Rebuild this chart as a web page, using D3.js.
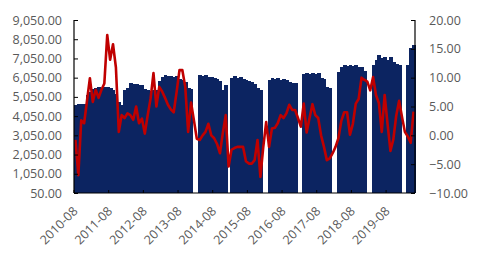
<!DOCTYPE html>
<html>
  <head>
    <meta charset="utf-8">
    <style>
      body { margin: 0; background: #fff; }
      svg text { font-family: "Open Sans", sans-serif; font-size: 12.5px; fill: #595959; }
    </style>
  </head>
  <body>
    <script src="https://d3js.org/d3.v7.min.js"></script>
    <svg id="chart" width="478" height="261"></svg>
    <script>

      // months 2010-08 .. 2020-05 (category axis)
      var months = d3.timeMonth.range(new Date(2010, 7, 1), new Date(2020, 5, 1))
        .map(d3.timeFormat("%Y-%m"));

      var tickLabels = ["2010-08", "2011-08", "2012-08", "2013-08", "2014-08",
                        "2015-08", "2016-08", "2017-08", "2018-08", "2019-08"];

      // bars (left axis), one row per year
      var barValues = [].concat(
        [4620, 4680, 4660, 4700, 5150],
        [5300, 5450, 5520, 5540, 5500, 5560, 5540, 5500, 5400, 5200, 4800, 4650],
        [5400, 5500, 5760, 5700, 5720, 5680, 5650, 5450, 5400, 5380, 5420, 5400],
        [5900, 6100, 6200, 6150, 6150, 6100, 6150, 6000, 5950, 5850, 5500, 5480],
        [null, null, 6200, 6150, 6180, 6100, 6080, 6050, 6000, 5900, 5400, 5650],
        [null, 6050, 6150, 6050, 6100, 6000, 5950, 5900, 5800, 5700, 5500, 5400],
        [null, null, 5950, 6050, 6000, 6050, 5950, 6000, 5950, 5850, 5760, 5760],
        [null, null, 6250, 6280, 6250, 6280, 6250, 6300, 6050, 6000, 5550, 5500],
        [null, null, 6350, 6600, 6700, 6650, 6700, 6680, 6700, 6620, 6600, 6400],
        [null, null, 6700, 6950, 7230, 7050, 7100, 6950, 7150, 6850, 6750, 6700],
        [null, null, 6700, 7600, 7750]
      );

      // line (right axis)
      var lineValues = [].concat(
        [-0.8, -6.9, 2.6, 2.1, 6.0],
        [9.9, 5.8, 7.9, 6.5, 7.9, 9.0, 17.4, 13.1, 15.8, 11.8, 0.6, 3.5],
        [3.0, 3.8, 3.5, 2.7, 5.0, 2.1, 2.9, 0.3, 3.5, 6.4, 10.8, 5.0],
        [8.4, 7.6, 6.5, 5.3, 4.5, 4.0, 7.5, 11.3, 11.3, 8.4, 0.6, 5.7],
        [2.6, -0.6, -0.8, 0.0, 0.6, 2.0, 0.0, -0.5, -1.5, -3.1, 0.4, 3.5],
        [-5.4, -2.5, -2.2, -2.0, -2.0, -2.0, -4.5, -4.9, -4.9, -4.3, -0.8, -7.2],
        [-2.0, 2.3, -2.0, 1.2, 1.3, 2.1, 3.5, 3.0, 3.8, 5.3, 4.4, 4.4],
        [3.0, 1.5, 5.5, 0.5, 3.0, 5.4, 3.5, 3.0, 0.0, -2.0, -4.3, -4.0],
        [-3.1, -2.0, -0.5, 2.5, 4.0, 4.0, 0.1, 2.0, 5.5, 6.3, 10.0, 9.6],
        [9.3, 7.8, 10.1, 7.0, 5.6, 0.6, 7.0, 2.0, -2.7, -0.7, 3.4, 6.0],
        [3.2, 0.6, -0.2, -1.3, 4.1]
      );

      var leftTicks = d3.range(50, 9051, 1000);
      var rightTicks = d3.range(-10, 21, 5);

      var svg = d3.select("#chart");
      var plotL = 74, plotR = 415, plotT = 20, plotB = 193;

      var x = d3.scaleBand().domain(months).range([plotL, plotR]).padding(0);
      var yL = d3.scaleLinear().domain([50, 9050]).range([plotB, plotT]);
      var yR = d3.scaleLinear().domain([-10, 20]).range([plotB, plotT]);

      // bars (overlap a little so no seams show between months)
      svg.append("g")
        .attr("shape-rendering", "crispEdges")
        .selectAll("rect")
        .data(months.map(function (m, i) { return { m: m, v: barValues[i] }; })
          .filter(function (d) { return d.v != null; }))
        .enter()
        .append("rect")
          .attr("x", function (d) { return x(d.m); })
          .attr("y", function (d) { return yL(d.v); })
          .attr("width", x.bandwidth() + 1)
          .attr("height", function (d) { return plotB - yL(d.v); })
          .attr("fill", "#0c2461");

      // line
      var line = d3.line()
        .x(function (d) { return x(d.m) + x.bandwidth() / 2; })
        .y(function (d) { return yR(d.v); });

      svg.append("path")
        .datum(months.map(function (m, i) { return { m: m, v: lineValues[i] }; }))
        .attr("d", line)
        .attr("fill", "none")
        .attr("stroke", "#c00000")
        .attr("stroke-width", 2.6)
        .attr("stroke-linejoin", "round");

      // left axis
      var gL = svg.append("g").attr("transform", "translate(" + plotL + ",0)")
        .call(d3.axisLeft(yL).tickValues(leftTicks).tickSize(-4).tickPadding(12)
          .tickFormat(d3.format(",.2f")));

      // right axis
      var gR = svg.append("g").attr("transform", "translate(" + plotR + ",0)")
        .call(d3.axisRight(yR).tickValues(rightTicks).tickSize(-4).tickPadding(14)
          .tickFormat(d3.format(".2f")));

      // bottom axis
      var gB = svg.append("g").attr("transform", "translate(0," + plotB + ")")
        .call(d3.axisBottom(x).tickValues(tickLabels).tickSize(0).tickFormat(""));

      gB.selectAll(".yr")
        .data(tickLabels)
        .enter()
        .append("line")
          .attr("x1", function (d) { return x(d); })
          .attr("x2", function (d) { return x(d); })
          .attr("y1", 0).attr("y2", -3)
          .attr("stroke", "#000");

      gB.selectAll(".lbl")
        .data(tickLabels)
        .enter()
        .append("text")
          .attr("transform", function (d) {
            return "translate(" + (x(d) + x.bandwidth() / 2 + 3) + ",19) rotate(-45)";
          })
          .attr("text-anchor", "end")
          .text(function (d) { return d; });

      [gL, gR, gB].forEach(function (g) {
        g.selectAll(".domain").attr("stroke", "#000").attr("stroke-width", 1.2);
        g.selectAll(".tick line").attr("stroke", "#000");
        g.selectAll(".tick text").attr("fill", "#595959")
          .style("font-family", "'Open Sans', sans-serif").style("font-size", "12.5px");
      });
      gL.select(".domain").attr("d", "M0," + plotT + "V" + plotB);
      gR.select(".domain").attr("d", "M0," + plotT + "V" + plotB);
      gB.select(".domain").attr("d", "M" + plotL + ",0H" + plotR);

    </script>
  </body>
</html>
